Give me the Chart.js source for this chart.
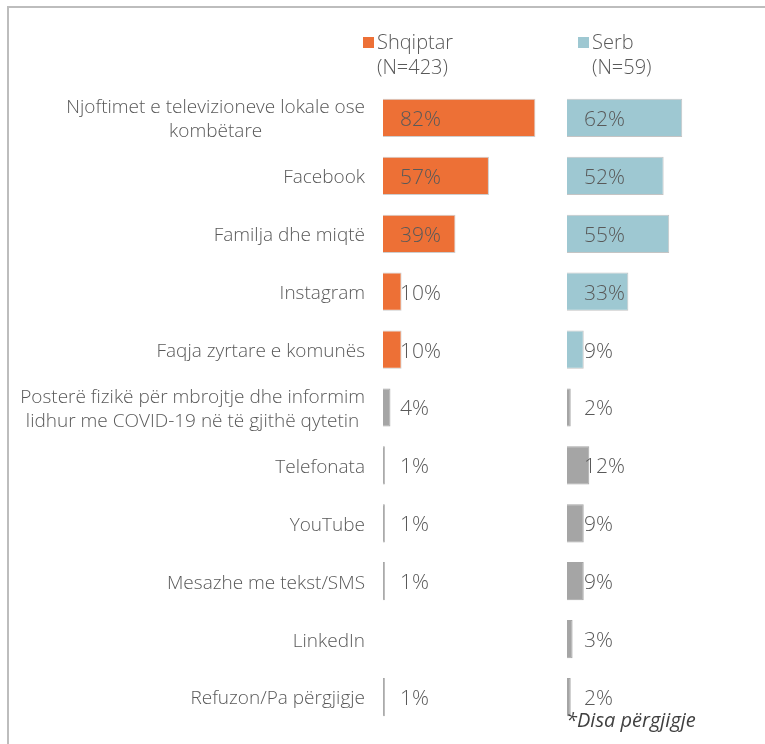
<!DOCTYPE html>
<html>
<head>
<meta charset="utf-8">
<script src="https://cdn.jsdelivr.net/npm/chart.js@4/dist/chart.umd.min.js"></script>
<style>
  html, body { margin: 0; padding: 0; background: #fff; }
  #wrap { position: relative; width: 765px; height: 744px; overflow: hidden; }
  #frame { position: absolute; left: 7px; top: 6px; width: 800px; height: 800px;
           border-top: 2px solid #BDBDBD; border-left: 2px solid #BDBDBD; pointer-events: none; }
  canvas { position: absolute; left: 0; top: 0; }
</style>
</head>
<body>
<div id="wrap">
  <canvas id="c" width="765" height="744"></canvas>
  <div id="frame"></div>
</div>
<script>
const categories = [
  ['Njoftimet e televizioneve lokale ose', 'kombëtare'],
  'Facebook',
  'Familja dhe miqtë',
  'Instagram',
  'Faqja zyrtare e komunës',
  ['Posterë fizikë për mbrojtje dhe informim', 'lidhur me COVID-19 në të gjithë qytetin'],
  'Telefonata',
  'YouTube',
  'Mesazhe me tekst/SMS',
  'LinkedIn',
  'Refuzon/Pa përgjigje'
];
const seriesNames = [['Shqiptar', '(N=423)'], ['Serb', '(N=59)']];
const shqiptar = [82, 57, 39, 10, 10, 4, 1, 1, 1, null, 1];
const serb = [62, 52, 55, 33, 9, 2, 12, 9, 9, 3, 2];
const footnote = '*Disa përgjigje';

const ORANGE = '#ED7036';
const BLUE = '#9EC8D2';
const GRAY = '#A5A5A5';
const TEXT = '#595959';
const FONT = '"Open Sans", Lato, sans-serif';
const colored = 5; // first rows drawn in series colour, rest in gray

const labelPlugin = {
  id: 'customText',
  afterDatasetsDraw(chart) {
    const ctx = chart.ctx;
    const yScale = chart.scales.y;
    ctx.save();
    // category labels
    ctx.font = '300 19px ' + FONT;
    ctx.fillStyle = TEXT;
    ctx.textBaseline = 'middle';
    ctx.textAlign = 'center';
    const rightX = 365;
    const lh = 24;
    categories.forEach((lab, i) => {
      const lines = Array.isArray(lab) ? lab : [lab];
      const w = Math.max(...lines.map(l => ctx.measureText(l).width));
      const cx = rightX - w / 2;
      const y = yScale.getPixelForValue(i) + 2;
      lines.forEach((l, j) => {
        ctx.fillText(l, cx, y + (j - (lines.length - 1) / 2) * lh);
      });
    });
    // value labels
    ctx.textAlign = 'left';
    ctx.font = '300 21px ' + FONT;
    chart.data.datasets.forEach((ds, di) => {
      const meta = chart.getDatasetMeta(di);
      const xs = chart.scales[ds.xAxisID];
      const x0 = xs.getPixelForValue(0);
      meta.data.forEach((el, i) => {
        const v = ds.data[i];
        if (v === null || v === undefined) return;
        ctx.fillText(v + '%', x0 + 17, el.y + 2);
      });
    });
    // legend
    ctx.font = '300 20px ' + FONT;
    const legendOffsets = [-20, 11];
    chart.data.datasets.forEach((ds, di) => {
      const xs = chart.scales[ds.xAxisID];
      const mx = xs.left + legendOffsets[di];
      ctx.fillStyle = ds.legendColor;
      ctx.fillRect(mx, 37, 11, 11);
      ctx.fillStyle = TEXT;
      const name = seriesNames[di];
      ctx.fillText(name[0], mx + 14, 43);
      ctx.fillText(name[1], mx + 14, 68);
    });
    // footnote
    const rs = chart.scales.x2;
    ctx.fillStyle = '#404040';
    ctx.font = 'italic 20px ' + FONT;
    ctx.fillText(footnote, rs.left - 1, 721);
    ctx.restore();
  }
};

new Chart(document.getElementById('c'), {
  type: 'bar',
  data: {
    labels: categories,
    datasets: [
      {
        label: 'Shqiptar (N=423)',
        data: shqiptar,
        xAxisID: 'x',
        grouped: false,
        legendColor: ORANGE,
        backgroundColor: c => c.dataIndex < colored ? ORANGE : GRAY,
        borderColor: c => c.dataIndex < colored ? 'rgba(200,200,200,0.9)' : GRAY,
        borderWidth: 1,
        barPercentage: 0.66,
        categoryPercentage: 1
      },
      {
        label: 'Serb (N=59)',
        data: serb,
        xAxisID: 'x2',
        grouped: false,
        legendColor: BLUE,
        backgroundColor: c => c.dataIndex < colored ? BLUE : GRAY,
        borderColor: c => c.dataIndex < colored ? 'rgba(190,190,190,0.9)' : GRAY,
        borderWidth: 1,
        barPercentage: 0.66,
        categoryPercentage: 1
      }
    ]
  },
  options: {
    indexAxis: 'y',
    responsive: false,
    animation: false,
    layout: { padding: { left: 383, right: 14, top: 89, bottom: 18 } },
    plugins: { legend: { display: false }, tooltip: { enabled: false } },
    scales: {
      y: { display: false },
      x: {
        position: 'bottom', stack: 'panels', stackWeight: 1,
        min: 0, max: 99,
        ticks: { display: false }, grid: { display: false, drawTicks: false }, border: { display: false }
      },
      x2: {
        position: 'bottom', stack: 'panels', stackWeight: 1,
        min: 0, max: 99,
        ticks: { display: false }, grid: { display: false, drawTicks: false }, border: { display: false }
      }
    }
  },
  plugins: [labelPlugin]
});
</script>
</body>
</html>
